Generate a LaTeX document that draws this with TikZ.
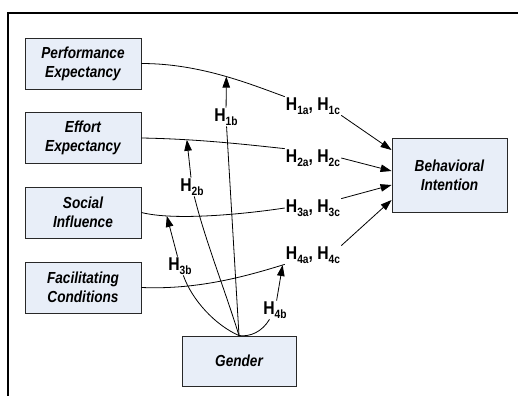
\documentclass[tikz,border=0pt]{standalone}
\usepackage{fontspec}
\setmainfont{Liberation Sans}[FakeStretch=0.85]
\usetikzlibrary{arrows.meta, positioning}
\definecolor{box_blue}{RGB}{232, 238, 248}
\definecolor{edge_gray}{RGB}{40, 40, 40}
\def \Hyp#1{H\raisebox{-3.5pt}{\fontsize{12}{12}\selectfont #1}}

\begin{document}
\begin{tikzpicture}[
    x=1pt, y=-1pt,
    factor/.style={
        rectangle,
        draw=edge_gray,
        fill=box_blue,
        line width=0.9pt,
        minimum width=116pt,
        minimum height=51pt,
        align=center,
        font=\fontsize{16}{19}\selectfont\bfseries\itshape
    },
    hyp/.style={
        inner sep=1pt,
        font=\fontsize{18.5}{20}\selectfont\bfseries
    },
    link/.style={
        line width=0.8pt
    },
    arrow/.style={
        -{Triangle[length=11pt, width=7.5pt]},
        line width=0.8pt
    }
]
\useasboundingbox (0,0) rectangle (518,396);

% Outer frame
\draw[line width=2pt] (518,13.5) -| (8,396);

% Define column positions
\def\colA{83}      % predictor column
\def\colB{239}     % gender column
\def\colC{449.5}   % intention column
\def\colH{313}     % hypothesis labels

% Predictor boxes
\node[factor] (perf) at (\colA,63.5) {Performance\\Expectancy};
\node[factor] (effort) at (\colA,138) {Effort\\Expectancy};
\node[factor] (social) at (\colA,212.5) {Social\\Influence};
\node[factor] (facil) at (\colA,287.5) {Facilitating\\Conditions};

% Moderator and outcome
\node[factor, minimum width=114pt, minimum height=50pt] (gender) at (\colB,361) {Gender};
\node[factor, minimum width=115pt, minimum height=74pt] (behav) at (\colC,175) {Behavioral\\Intention};

% Direct effect labels
\node[hyp] (h1) at (\colH,106) {\Hyp{1a}, \Hyp{1c}};
\node[hyp] (h2) at (\colH,158) {\Hyp{2a}, \Hyp{2c}};
\node[hyp] (h3) at (\colH,208) {\Hyp{3a}, \Hyp{3c}};
\node[hyp] (h4) at (\colH,255) {\Hyp{4a}, \Hyp{4c}};

% Moderation labels
\node[hyp] (b1) at (226,117) {\Hyp{1b}};
\node[hyp] (b2) at (192,187) {\Hyp{2b}};
\node[hyp] (b3) at (180,266) {\Hyp{3b}};
\node[hyp] (b4) at (275,310) {\Hyp{4b}};

% Curves from predictors to labels
\draw[link] (perf.east) .. controls (200,63.5) and (250,84) .. (h1.north west) coordinate[pos=0.53] (t1);
\draw[link] (effort.east) .. controls (200,139) and (250,145) .. (h2.north west) coordinate[pos=0.27] (t2);
\draw[link] (social.east) .. controls (175,221) and (245,214) .. (h3.west) coordinate[pos=0.21] (t3);
\draw[link] (facil.east) .. controls (200,290) and (250,275) .. (h4.south west) coordinate[pos=0.98] (t4);

% Connecting arrows into intention
\draw[arrow] (h1.south east) -- ([yshift=25pt]behav.west);
\draw[arrow] (h2.east) -- ([yshift=4pt]behav.west);
\draw[arrow] (h3.north east) -- ([yshift=-10pt]behav.west);
\draw[arrow] (h4.north east) -- ([yshift=-25pt]behav.west);

% Gender moderation paths
\draw[link] (gender.north) -- (b1);
\draw[arrow] (b1) -- (t1);
\draw[link] (gender.north) .. controls (225,290) and (205,240) .. (b2);
\draw[arrow] (b2) -- (t2);
\draw[link] (gender.north) .. controls (215,325) and (192,300) .. (b3);
\draw[arrow] (b3) -- (t3);
\draw[link] (gender.north) .. controls (250,337) and (262,332) .. (b4);
\draw[arrow] (b4) -- (t4);

\end{tikzpicture}
\end{document}
